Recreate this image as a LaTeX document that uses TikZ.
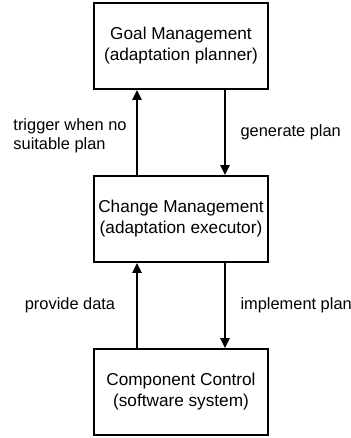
\documentclass[tikz,border=0pt]{standalone}
\usepackage{fontspec}
\setmainfont{Liberation Sans}
\usetikzlibrary{arrows.meta,positioning}

\begin{document}
\begin{tikzpicture}[
    node distance=42.6pt,
    every node/.style={font=\fontsize{8.6}{10.5}\selectfont},
    layerbox/.style={draw, line width=0.9pt, minimum width=87pt, minimum height=43pt, inner sep=0pt, align=center},
    arrstyle/.style={-{Triangle[length=5pt, width=4.6pt]}, line width=0.9pt},
    lbl/.style={font=\fontsize{8.2}{9.5}\selectfont, align=left}
]
\useasboundingbox (-90.5pt,23pt) rectangle (85pt,-196pt);

% Layers
\node[layerbox] (goal) {Goal Management\\(adaptation planner)};
\node[layerbox, below=of goal] (change) {Change Management\\(adaptation executor)};
\node[layerbox, below=of change] (comp) {Component Control\\(software system)};

% Goal <-> Change
\draw[arrstyle] ([xshift=-22pt]change.north) -- ([xshift=-22pt]goal.south)
    node[lbl, midway, xshift=-33.5pt, yshift=-1.5pt] (trig) {trigger when no\\suitable plan};
\draw[arrstyle] ([xshift=22pt]goal.south) -- ([xshift=22pt]change.north)
    node[lbl, midway, anchor=west, xshift=4pt] (gen) {generate plan};

% Change <-> Component
\draw[arrstyle] ([xshift=-22pt]comp.north) -- ([xshift=-22pt]change.south)
    node[lbl, midway, xshift=-33.5pt] (prov) {provide data};
\draw[arrstyle] ([xshift=22pt]change.south) -- ([xshift=22pt]comp.north)
    node[lbl, midway, anchor=west, xshift=4pt] (impl) {implement plan};
\end{tikzpicture}
\end{document}
